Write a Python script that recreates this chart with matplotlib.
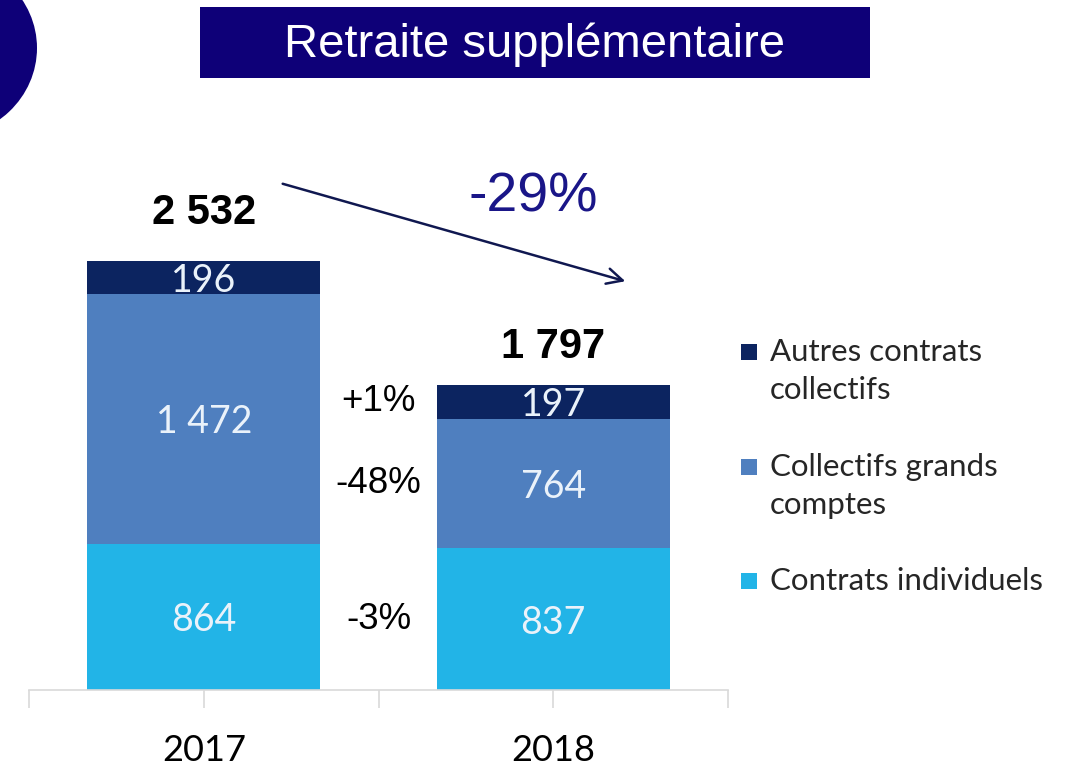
import matplotlib
matplotlib.use("Agg")
import numpy as np
import matplotlib.pyplot as plt
from matplotlib.patches import Rectangle, Ellipse

# data
years = ["2017", "2018"]
series = ["Contrats individuels", "Collectifs grands\ncomptes", "Autres contrats\ncollectifs"]
contrats_individuels = [864, 837]
collectifs_grands_comptes = [1472, 764]
autres_contrats = [196, 197]
totals = [2532, 1797]   # as printed (rounded source figures)
colors = ["#22B4E7", "#4F7FBF", "#0C2460"]

W, H = 1071, 766
DARK = "#0E0078"


def fmt(v):
    return f"{v:,}".replace(",", " ")


def pct(new, old):
    return f"{(new / old - 1) * 100:+.0f}%"


fig = plt.figure(figsize=(W / 100, H / 100), dpi=100)

# bar axes, baseline at y=690px, 0.1695 px per unit
y_top = 3000
ax = fig.add_axes([29 / W, (H - 690) / H, (728 - 29) / W, y_top * 0.1695 / H])
ax.set_xlim(-0.5, 1.5)
ax.set_ylim(0, y_top)

stack = [contrats_individuels, collectifs_grands_comptes, autres_contrats]
x = np.arange(len(years))
bottom = np.zeros(len(years))
centers = []
for vals, c in zip(stack, colors):
    vals = np.asarray(vals, dtype=float)
    ax.bar(x, vals, bottom=bottom, width=0.667, color=c, linewidth=0, zorder=2)
    mid = bottom + vals / 2
    centers.append(mid)
    for xi, v, m in zip(x, vals, mid):
        ax.text(xi, m, fmt(int(v)), ha="center", va="center_baseline", color="#EAF2FA",
                fontsize=27, family="Lato", zorder=3)
    bottom = bottom + vals

total_offsets = [48, 38]
for xi, top, t, off in zip(x, bottom, totals, total_offsets):
    ax.annotate(fmt(t), (xi, top), xytext=(0, off), textcoords="offset pixels",
                ha="center", va="center", fontsize=30, fontweight="bold",
                family="Liberation Sans", color="black")

# change labels between bars, at the 2018 segment centres
for vals, m in zip(stack, centers):
    ax.text(0.5, m[1], pct(vals[1], vals[0]), ha="center", va="center",
            fontsize=26.5, family="Liberation Sans", color="black")

for s in ["top", "right", "left"]:
    ax.spines[s].set_visible(False)
ax.spines["bottom"].set_color("#D9D9D9")
ax.spines["bottom"].set_linewidth(1.2)
ax.set_yticks([])
ax.set_xticks([-0.5, 0, 0.5, 1, 1.5])
ax.set_xticklabels(["", years[0], "", years[1], ""], family="Lato", fontsize=26)
ax.tick_params(axis="x", direction="out", length=13, width=1.2, color="#D9D9D9", pad=19)
ax.patch.set_alpha(0)

# overlay in pixel coords for title, arrow, legend
ov = fig.add_axes([0, 0, 1, 1])
ov.set_xlim(0, W)
ov.set_ylim(H, 0)
ov.axis("off")
ov.patch.set_alpha(0)

ov.add_patch(Ellipse((-58, 48), 190, 180, color=DARK, linewidth=0))
ov.add_patch(Rectangle((200, 7), 670, 71, color=DARK, linewidth=0))
ov.text(535, 45, "Retraite supplémentaire", ha="center", va="center",
        color="white", fontsize=34, family="Liberation Sans")

ov.annotate("", xy=(628, 282), xytext=(280, 183),
            arrowprops=dict(arrowstyle="->", color="#101850", lw=1.8,
                            mutation_scale=28))
ov.text(533, 198, pct(totals[1], totals[0]), ha="center", va="center",
        color="#1A1688", fontsize=40, family="Liberation Sans")

legend_y = [352, 467, 581]
for name, c, ly in zip(series[::-1], colors[::-1], legend_y):
    ov.add_patch(Rectangle((741, ly - 8), 16, 16, color=c, linewidth=0))
    ov.text(770, ly - 14, name, ha="left", va="top", fontsize=22.5,
            family="Lato", color="#262626", linespacing=1.45)

fig.savefig("out.png", dpi=100)
